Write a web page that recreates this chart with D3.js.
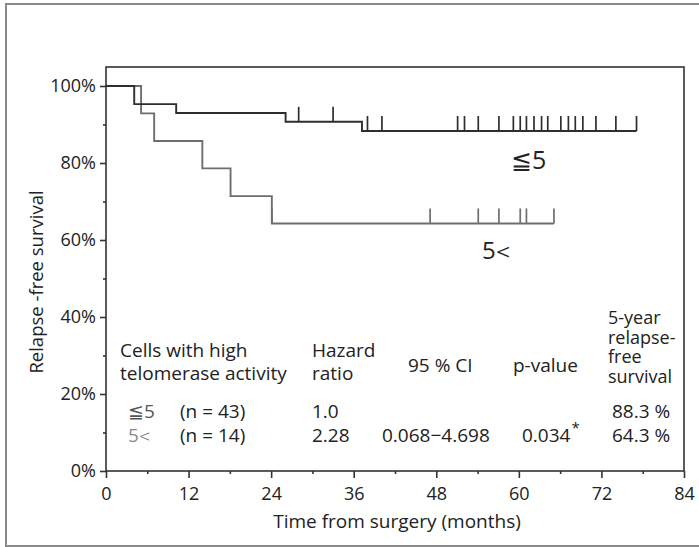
<!DOCTYPE html>
<html>
<head>
<meta charset="utf-8">
<script src="https://cdn.jsdelivr.net/npm/d3@7"></script>
<style>
  body { margin: 0; background: #fff; }
  svg text { font-family: 'Open Sans', 'Noto Sans', sans-serif; fill: #222; }
</style>
</head>
<body>
<svg id="chart" width="699" height="547"></svg>
<script>
// survival steps: [month, survival]
var lowSteps = [[0, 1], [4.1, 0.953], [10.2, 0.930], [26.1, 0.907], [37.2, 0.883]]
var lowEnd = 77.1
var lowCensor = [28, 33, 38, 40.1, 51.1, 52.1, 54.1, 57.1, 59.2, 60.2, 61.1, 62.2, 63.3, 64.2, 66.1, 67.2, 68.2, 69.3, 71.2, 74.1, 77.1]

var highSteps = [[0, 1], [5.1, 0.929], [7.0, 0.857], [14.0, 0.786], [18.1, 0.714], [24.1, 0.643]]
var highEnd = 65.1
var highCensor = [24.1, 47.1, 54.1, 57.1, 60.2, 61.1, 65.1]

var xTicks = [0, 12, 24, 36, 48, 60, 72, 84]
var yTicks = [0, 0.2, 0.4, 0.6, 0.8, 1.0]

var tableHead = [
  { x: 120, y: 357, gap: 23, lines: ['Cells with high', 'telomerase activity'] },
  { x: 312, y: 357, gap: 23, lines: ['Hazard', 'ratio'] },
  { x: 408, y: 372, gap: 0, lines: ['95 % CI'] },
  { x: 513, y: 372, gap: 0, lines: ['p-value'] },
  { x: 608, y: 324, gap: 19.5, lines: ['5-year', 'relapse-', 'free', 'survival'] }
]
var rowLow = ['\u22665', '(n = 43)', '1.0', '', '', '88.3 %']
var rowHigh = ['5\uff1c', '(n = 14)', '2.28', '0.068\u22124.698', '0.034', '64.3 %']

var ctx = {
  left: 106, right: 684, top: 67, bottom: 471, y100: 86,
  lowColor: '#2e2e2e', highColor: '#6e6e6e'
}

var svg = d3.select('#chart')

// outer frame
svg.append('rect')
   .attr('x', 6).attr('y', 4)
   .attr('width', 700).attr('height', 542)
   .style('fill', 'none').style('stroke', '#8a8a8a').style('stroke-width', 2)

var x = d3.scaleLinear().domain([0, 84]).range([ctx.left, ctx.right])
var y = d3.scaleLinear().domain([0, 1]).range([ctx.bottom, ctx.y100])

// plot box
svg.append('rect')
   .attr('x', ctx.left).attr('y', ctx.top)
   .attr('width', ctx.right - ctx.left).attr('height', ctx.bottom - ctx.top)
   .style('fill', 'none').style('stroke', '#333').style('stroke-width', 1.6)

var yAxis = svg.append('g')
   .attr('transform', 'translate(' + ctx.left + ',0)')
   .call(d3.axisLeft(y).tickValues(yTicks).tickFormat(d3.format('.0%')).tickSize(6).tickPadding(4))
var yMinor = svg.append('g')
   .attr('transform', 'translate(' + ctx.left + ',0)')
   .call(d3.axisLeft(y).tickValues([0.1, 0.3, 0.5, 0.7, 0.9]).tickFormat('').tickSize(3))

var xAxis = svg.append('g')
   .attr('transform', 'translate(0,' + ctx.bottom + ')')
   .call(d3.axisBottom(x).tickValues(xTicks).tickSize(7).tickPadding(9))
var xMinor = svg.append('g')
   .attr('transform', 'translate(0,' + ctx.bottom + ')')
   .call(d3.axisBottom(x).tickValues([6, 18, 30, 42, 54, 66, 78]).tickFormat('').tickSize(3))

;[yAxis, yMinor, xAxis, xMinor].forEach(function (g) {
  g.select('.domain').remove()
  g.selectAll('line').style('stroke', '#333').style('stroke-width', 1.6)
  g.selectAll('text').style('font-size', '18px').style('fill', '#222')
     .style('font-family', "'Open Sans', sans-serif")
})

// step curves
var stepLine = d3.line().x(function (d) { return x(d[0]) }).y(function (d) { return y(d[1]) })
  .curve(d3.curveStepAfter)

var drawCurve = function (steps, end, censor, color) {
  var pts = steps.concat([[end, steps[steps.length - 1][1]]])
  svg.append('path')
     .attr('d', stepLine(pts))
     .style('fill', 'none').style('stroke', color).style('stroke-width', 1.9)

  censor.forEach(function (t) {
    var s = steps.filter(function (d) { return d[0] <= t }).pop()[1]
    svg.append('line')
       .attr('x1', x(t)).attr('x2', x(t))
       .attr('y1', y(s)).attr('y2', y(s) - 15)
       .style('stroke', color).style('stroke-width', 1.7)
  })
}

drawCurve(highSteps, highEnd, highCensor, ctx.highColor)
drawCurve(lowSteps, lowEnd, lowCensor, ctx.lowColor)

// curve labels
svg.append('text').attr('x', 511).attr('y', 169)
   .style('font-size', '25px').text('\u22665')
svg.append('text').attr('x', 482).attr('y', 259)
   .style('font-size', '24px').style('letter-spacing', '-5px').text('5\uff1c')

// axis titles
svg.append('text')
   .attr('x', 397).attr('y', 528)
   .attr('text-anchor', 'middle')
   .style('font-size', '19px')
   .text('Time from surgery (months)')

svg.append('text')
   .attr('transform', 'translate(43,282) rotate(-90)')
   .attr('text-anchor', 'middle')
   .style('font-size', '18.5px')
   .text('Relapse -free survival')

// table
var tsize = '19px'
tableHead.forEach(function (h) {
  var t = svg.append('text').attr('x', h.x).attr('y', h.y)
     .style('font-size', h.lines.length > 2 ? '18px' : tsize)
  h.lines.forEach(function (l, i) {
    t.append('tspan').attr('x', h.x).attr('dy', i ? h.gap : 0).text(l)
  })
})

var colX = [128, 180, 312, 382, 522, 612]
var drawRow = function (row, yy, labelColor) {
  row.forEach(function (v, i) {
    if (!v) return
    var t = svg.append('text').attr('x', colX[i]).attr('y', yy)
       .style('font-size', tsize).text(v)
    if (i === 0) t.style('fill', labelColor).style('letter-spacing', v.charAt(0) === '5' ? '-4px' : null)
    if (i === 4) {
      t.append('tspan').attr('dx', 1).attr('dy', -9)
       .style('font-size', '15px').text('*')
    }
  })
}
drawRow(rowLow, 418, '#555')
drawRow(rowHigh, 442, '#8a8a8a')
</script>
</body>
</html>
